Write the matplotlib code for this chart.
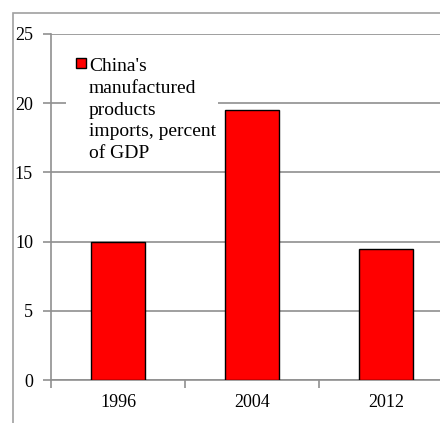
import matplotlib
matplotlib.use("Agg")
import matplotlib.pyplot as plt
from matplotlib.patches import Rectangle

categories = ["1996", "2004", "2012"]
values = [10.0, 19.5, 9.5]
series_label_lines = ["China's", "manufactured", "products", "imports, percent", "of GDP"]
yticks = [0, 5, 10, 15, 20, 25]

plt.rcParams['font.family'] = ['Liberation Serif', 'DejaVu Serif']
W, H = 440, 423
fig = plt.figure(figsize=(W/100, H/100), dpi=100)

def fx(px):
    return px / W

def fy(py):
    return (H - py) / H

# outer chart border
fig.patches.append(Rectangle((fx(13), -0.1), 1.2, fy(13) + 0.1, transform=fig.transFigure,
                             fill=False, edgecolor='#a0a0a0', linewidth=1.2))

ax = fig.add_axes([fx(51), fy(380), 402/W, 346/H])
x = list(range(len(categories)))
ax.bar(x, values, width=0.4, color='#ff0000', edgecolor='black', linewidth=1.0, zorder=3)
ax.set_xlim(-0.5, 2.5)
ax.set_ylim(0, 25)
ax.set_yticks(yticks)
ax.set_yticklabels([str(t) for t in yticks], fontsize=13)
ax.set_xticks(x)
ax.set_xticklabels(categories, fontsize=13)
ax.set_xticks([-0.5, 0.5, 1.5, 2.5], minor=True)
ax.tick_params(axis='x', which='major', length=0, pad=10)
ax.tick_params(axis='x', which='minor', length=6, color='#909090', width=1.2)
ax.tick_params(axis='y', length=6, color='#909090', width=1.2, pad=7)
ax.grid(axis='y', color='#8f8f8f', linewidth=1.2, zorder=0)
for s in ['top', 'right']:
    ax.spines[s].set_visible(False)
for s in ['left', 'bottom']:
    ax.spines[s].set_color('#909090')
    ax.spines[s].set_linewidth(1.2)

# legend (manual, to match the original layout)
fig.patches.append(Rectangle((fx(66), fy(166)), (218 - 66)/W, (166 - 50)/H,
                             transform=fig.transFigure, facecolor='white', edgecolor='none', zorder=5))
fig.patches.append(Rectangle((fx(75.5), fy(68.5)), 10/W, 10/H, transform=fig.transFigure,
                             facecolor='#ff0000', edgecolor='black', linewidth=1.0, zorder=6))
for i, line in enumerate(series_label_lines):
    fig.text(fx(89), fy(71 + 21.8 * i), line, fontsize=14, va='baseline', ha='left', zorder=7)

fig.savefig("out.png", dpi=100)
